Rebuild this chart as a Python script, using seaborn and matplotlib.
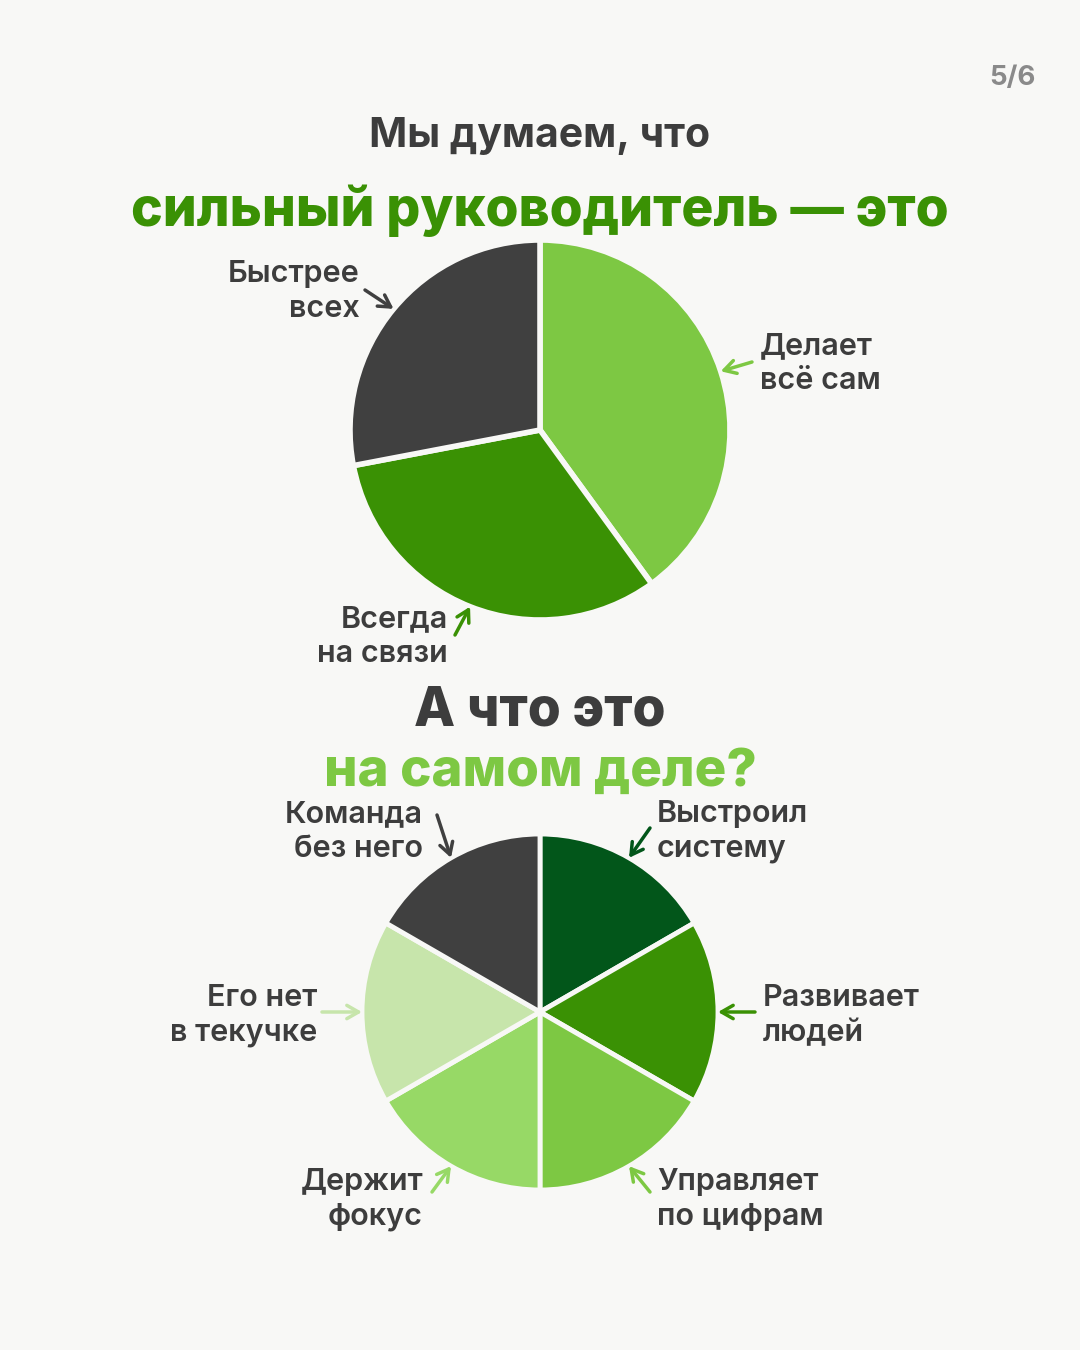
import numpy as np
import seaborn as sns
import matplotlib.pyplot as plt

sns.set_theme(style="white")
plt.rcParams['font.family'] = ['Inter', 'DejaVu Sans']

# data
top_labels = ["Делает\nвсё сам", "Всегда\nна связи", "Быстрее\nвсех"]
top_values = [40, 32, 28]
top_colors = ["#7DC843", "#3A9104", "#404040"]

bottom_labels = ["Выстроил\nсистему", "Развивает\nлюдей", "Управляет\nпо цифрам",
                 "Держит\nфокус", "Его нет\nв текучке", "Команда\nбез него"]
bottom_values = [1, 1, 1, 1, 1, 1]
bottom_colors = ["#02561A", "#3A9104", "#7DC843", "#97D966", "#C7E5AB", "#404040"]

bg = "#F8F8F6"
txt = "#3D3D3D"
W, H = 1080, 1350

fig = plt.figure(figsize=(10.8, 13.5), dpi=100)
fig.patch.set_facecolor(bg)


def pie_axes(cx, cy, r):
    ax = fig.add_axes([(cx - r) / W, 1 - (cy + r) / H, 2 * r / W, 2 * r / H])
    ax.set_xlim(-1, 1)
    ax.set_ylim(-1, 1)
    ax.axis("off")
    return ax


def draw_pie(ax, values, colors, labels, tails, aligns, gap):
    wedges, _ = ax.pie(values, colors=colors, startangle=90, counterclock=False,
                       radius=1, center=(0, 0),
                       wedgeprops=dict(edgecolor=bg, linewidth=gap))
    ax.set_xlim(-1, 1)
    ax.set_ylim(-1, 1)
    ax.set_aspect("auto")
    for w, col, lab, (tx, ty, lx, ly), ha in zip(wedges, colors, labels, tails, aligns):
        mid = np.deg2rad((w.theta1 + w.theta2) / 2)
        ax.annotate("", xy=(np.cos(mid), np.sin(mid)), xycoords="data",
                    xytext=(tx, H - ty), textcoords="figure pixels",
                    arrowprops=dict(arrowstyle="->,head_length=0.7,head_width=0.4",
                                    color=col, lw=2.5, shrinkA=0, shrinkB=0))
        fig.text(lx / W, 1 - ly / H, lab, ha=ha, va="top", fontsize=22,
                 fontweight="semibold", color=txt, linespacing=1.3)


ax1 = pie_axes(540, 430, 190)
draw_pie(ax1, top_values, top_colors, top_labels,
         [(752, 362, 760, 332), (455, 635, 448, 605), (365, 290, 360, 260)],
         ["left", "right", "right"], 4)

ax2 = pie_axes(540, 1012, 178)
draw_pie(ax2, bottom_values, bottom_colors, bottom_labels,
         [(650, 828, 657, 800), (755, 1012, 763, 984), (650, 1192, 657, 1168),
          (432, 1192, 423, 1168), (322, 1012, 317, 984), (437, 815, 423, 800)],
         ["left", "left", "left", "right", "right", "right"], 3.5)

# titles
fig.text(540 / W, 1 - 136 / H, "Мы думаем, что", ha="center", va="center",
         fontsize=29.5, fontweight="bold", color=txt)
fig.text(540 / W, 1 - 211 / H, "сильный руководитель — это", ha="center", va="center",
         fontsize=38.5, fontweight="heavy", color="#3A9104")
fig.text(540 / W, 1 - 711 / H, "А что это", ha="center", va="center",
         fontsize=38.5, fontweight="heavy", color=txt)
fig.text(540 / W, 1 - 772 / H, "на самом деле?", ha="center", va="center",
         fontsize=38, fontweight="heavy", color="#7DC843")
fig.text(1012 / W, 1 - 78 / H, "5/6", ha="center", va="center",
         fontsize=20, fontweight="bold", color="#8A8A8A")

fig.savefig("out.png", dpi=100, facecolor=bg)
